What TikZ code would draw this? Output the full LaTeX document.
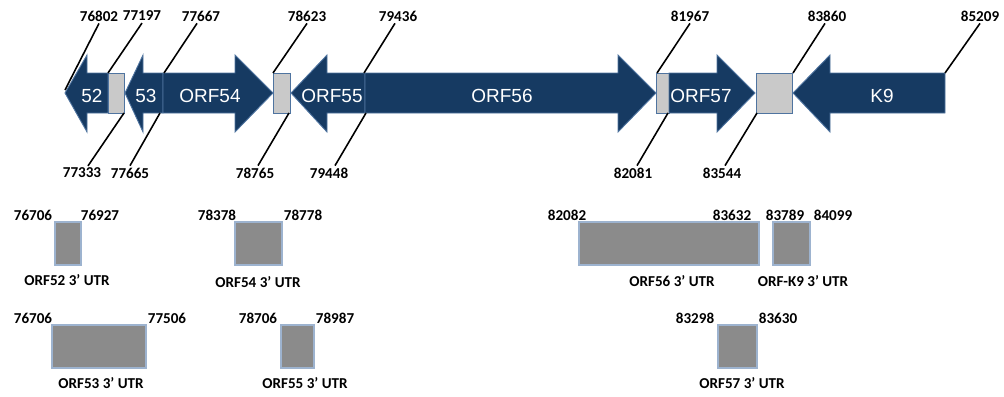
\documentclass[tikz,border=0pt]{standalone}
\usepackage{fontspec}
\setmainfont{Carlito}
\newfontfamily\arialfont{Liberation Sans}
\definecolor{orfblue}{HTML}{163A62}
\definecolor{orfedge}{HTML}{4F74A0}
\definecolor{utrgray}{HTML}{C9C9C9}
\definecolor{boxgray}{HTML}{8B8B8B}
\definecolor{boxedge}{HTML}{9DB3CF}
\tikzset{
    orf/.style={fill=orfblue, draw=orfedge, line width=0.5pt},
    utr/.style={fill=utrgray, draw=orfedge, line width=0.5pt},
    utrbox/.style={fill=boxgray, draw=boxedge, line width=0.6pt},
    orflabel/.style={text=white, font=\arialfont\fontsize{10.8}{12}\selectfont},
    posnum/.style={font=\fontsize{8.6}{10}\selectfont\bfseries, inner sep=1pt},
    utrname/.style={font=\fontsize{8.6}{10}\selectfont\bfseries, inner sep=1pt},
    leader/.style={line width=0.9pt}
}

\begin{document}
\begin{tikzpicture}[x=0.02cm,y=-0.02cm]
        \useasboundingbox (0,0) rectangle (1004,396);

        % genes
        \draw[orf] (65,93) -- (87,55) -- (87,73) -- (108,73) -- (108,113) -- (87,113) -- (87,132) -- cycle;
        \draw[utr] (108,73) rectangle (124,113);
        \draw[orf] (125,93) -- (143,55) -- (143,73) -- (163,73) -- (163,113) -- (143,113) -- (143,132) -- cycle;
        \draw[orf] (163,73) -- (235,73) -- (235,55) -- (273,93) -- (235,132) -- (235,113) -- (163,113) -- cycle;
        \draw[utr] (273,73) rectangle (290,113);
        \draw[orf] (291,93) -- (327,55) -- (327,73) -- (365,73) -- (365,113) -- (327,113) -- (327,132) -- cycle;
        \draw[orf] (365,73) -- (618,73) -- (618,55) -- (656,93) -- (618,132) -- (618,113) -- (365,113) -- cycle;
        \draw[utr] (656,73) rectangle (669,113);
        \draw[orf] (669,73) -- (717,73) -- (717,55) -- (755,93) -- (717,132) -- (717,113) -- (669,113) -- cycle;
        \draw[utr] (756,73) rectangle (792,113);
        \draw[orf] (793,93) -- (830,55) -- (830,73) -- (945,73) -- (945,113) -- (830,113) -- (830,132) -- cycle;

        \node[orflabel] (n52) at (92,96) {52};
        \node[orflabel] (n53) at (146,96) {53};
        \node[orflabel] (n54) at (210,96) {ORF54};
        \node[orflabel] (n55) at (332,96) {ORF55};
        \node[orflabel] (n56) at (502,96) {ORF56};
        \node[orflabel] (n57) at (701,96) {ORF57};
        \node[orflabel] (nk9) at (882,96) {K9};

        % ends of the leaders
        \coordinate (c76802) at (65,90);
        \coordinate (c77197) at (108,73);
        \coordinate (c77667) at (164,73);
        \coordinate (c78623) at (273,73);
        \coordinate (c79436) at (364,73);
        \coordinate (c81967) at (657,73);
        \coordinate (c83860) at (793,73);
        \coordinate (c85209) at (945,73);
        \coordinate (c77333) at (124,113);
        \coordinate (c77665) at (160,113);
        \coordinate (c78765) at (289,113);
        \coordinate (c79448) at (366,113);
        \coordinate (c82081) at (668,113);
        \coordinate (c83544) at (757,113);

        % positions above
        \node[posnum] (p76802) at (99,16) {76802};
        \node[posnum] (p77197) at (142,16) {77197};
        \node[posnum] (p77667) at (201,16) {77667};
        \node[posnum] (p78623) at (307,16) {78623};
        \node[posnum] (p79436) at (398,16) {79436};
        \node[posnum] (p81967) at (690,16) {81967};
        \node[posnum] (p83860) at (827,16) {83860};
        \node[posnum] (p85209) at (980,16) {85209};

        % positions below
        \node[posnum] (p77333) at (82,173) {77333};
        \node[posnum] (p77665) at (130,173) {77665};
        \node[posnum] (p78765) at (255,173) {78765};
        \node[posnum] (p79448) at (329,173) {79448};
        \node[posnum] (p82081) at (633,173) {82081};
        \node[posnum] (p83544) at (722,173) {83544};

        \draw[leader] (p76802.south) -- (c76802);
        \draw[leader] (p77197.south) -- (c77197);
        \draw[leader] (p77667.south) ++(-4,0) -- (c77667);
        \draw[leader] (p78623.south) -- (c78623);
        \draw[leader] (p79436.south) ++(-3,0) -- (c79436);
        \draw[leader] (p81967.south) -- (c81967);
        \draw[leader] (p83860.south) ++(-2,0) -- (c83860);
        \draw[leader] (p85209.south) -- (c85209);
        \draw[leader] (p77333.north) ++(6,0) -- (c77333);
        \draw[leader] (p77665.north) -- (c77665);
        \draw[leader] (p78765.north) ++(3,0) -- (c78765);
        \draw[leader] (p79448.north) ++(6,0) -- (c79448);
        \draw[leader] (p82081.north) ++(4,0) -- (c82081);
        \draw[leader] (p83544.north) ++(3,0) -- (c83544);

        % 3' UTR boxes
        \draw[utrbox] (55,222) rectangle (81,265);
        \node[posnum] (u76706a) at (33,215) {76706};
        \node[posnum] (u76927) at (100,215) {76927};
        \node[utrname] (r52) at (67,280) {ORF52 3' UTR};

        \draw[utrbox] (235,222) rectangle (282,265);
        \node[posnum] (u78378) at (217,215) {78378};
        \node[posnum] (u78778) at (303,215) {78778};
        \node[utrname] (r54) at (258,282) {ORF54 3' UTR};

        \draw[utrbox] (52,325) rectangle (146,368);
        \node[posnum] (u76706b) at (33,318) {76706};
        \node[posnum] (u77506) at (167,318) {77506};
        \node[utrname] (r53) at (101,383) {ORF53 3' UTR};

        \draw[utrbox] (281,325) rectangle (314,368);
        \node[posnum] (u78706) at (258,318) {78706};
        \node[posnum] (u78987) at (335,318) {78987};
        \node[utrname] (r55) at (305,383) {ORF55 3' UTR};

        \draw[utrbox] (579,222) rectangle (759,265);
        \node[posnum] (u82082) at (567,215) {82082};
        \node[posnum] (u83632) at (732,215) {83632};
        \node[utrname] (r56) at (672,281) {ORF56 3' UTR};

        \draw[utrbox] (773,222) rectangle (810,265);
        \node[posnum] (u83789) at (785,215) {83789};
        \node[posnum] (u84099) at (833,215) {84099};
        \node[utrname] (rk9) at (803,281) {ORF-K9 3' UTR};

        \draw[utrbox] (718,325) rectangle (757,368);
        \node[posnum] (u83298) at (695,318) {83298};
        \node[posnum] (u83630) at (778,318) {83630};
        \node[utrname] (r57) at (742,383) {ORF57 3' UTR};
\end{tikzpicture}
\end{document}
